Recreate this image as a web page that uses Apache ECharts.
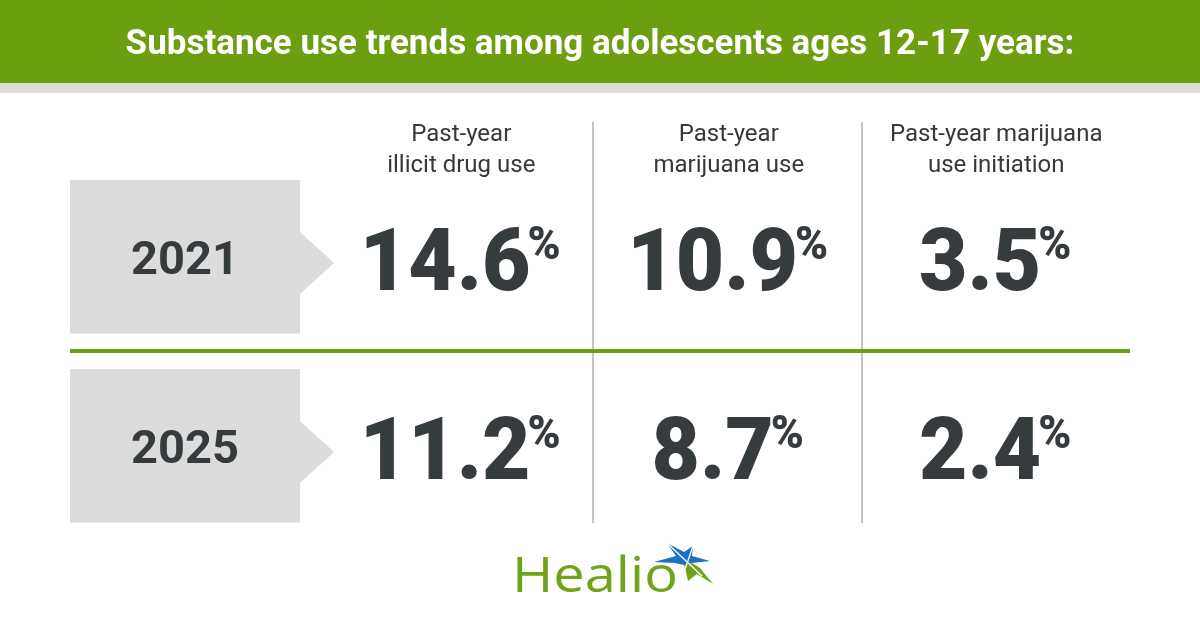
<!DOCTYPE html>
<html>
<head>
<meta charset="utf-8">
<script src="https://cdn.jsdelivr.net/npm/echarts@6/dist/echarts.min.js"></script>
<style>
html,body{margin:0;padding:0;background:#fff;}
#chart{width:1200px;height:630px;}
</style>
</head>
<body>
<div id="chart"></div>
<script>
// ---- Data ----
var title = 'Substance use trends among adolescents ages 12-17 years:';
var years = ['2021', '2025'];
var measures = ['Past-year\nillicit drug use', 'Past-year\nmarijuana use', 'Past-year marijuana\nuse initiation'];
var illicitDrugUse = [14.6, 11.2];
var marijuanaUse = [10.9, 8.7];
var marijuanaInitiation = [3.5, 2.4];
var seriesValues = [illicitDrugUse, marijuanaUse, marijuanaInitiation];

// ---- Style constants ----
var GREEN = '#6c9f10';
var LOGOGREEN = '#6fa319';
var DARK = '#363b3e';
var BOXGRAY = '#dcdcdc';

var xCats = [''].concat(measures);

var numberData = [];
seriesValues.forEach(function (vals, j) {
  vals.forEach(function (v, i) {
    numberData.push([j + 1, i, v]);
  });
});
var yearData = years.map(function (y, i) { return [0, i, y]; });

var chart = echarts.init(document.getElementById('chart'), null, { renderer: 'canvas' });

var option = {
  backgroundColor: '#ffffff',
  animation: false,
  grid: { left: 60, right: 70, top: 162, bottom: 90, containLabel: false },
  xAxis: {
    type: 'category',
    position: 'top',
    data: xCats,
    axisLine: { show: false },
    axisTick: { show: false },
    splitLine: { show: false },
    axisLabel: {
      interval: 0,
      margin: 12,
      verticalAlign: 'middle',
      fontFamily: 'Roboto',
      fontSize: 24,
      lineHeight: 31,
      color: '#383838',
      align: 'center'
    }
  },
  yAxis: {
    type: 'category',
    data: years,
    inverse: true,
    show: false
  },
  graphic: [
    { type: 'rect', shape: { x: 0, y: 0, width: 1200, height: 83 }, style: { fill: GREEN }, z: 0 },
    { type: 'rect', shape: { x: 0, y: 83, width: 1200, height: 10 }, style: { fill: BOXGRAY }, z: 0 },
    {
      type: 'text', x: 600, y: 45,
      style: { text: title, fill: '#ffffff', font: 'bold 35px Roboto', align: 'center', verticalAlign: 'middle' },
      z: 1
    },
    { type: 'line', shape: { x1: 593, y1: 122, x2: 593, y2: 523 }, style: { stroke: '#b3b3b3', lineWidth: 1.6 }, z: 0 },
    { type: 'line', shape: { x1: 862, y1: 122, x2: 862, y2: 523 }, style: { stroke: '#b3b3b3', lineWidth: 1.6 }, z: 0 },
    { type: 'line', shape: { x1: 70, y1: 351, x2: 1130, y2: 351 }, style: { stroke: GREEN, lineWidth: 4 }, z: 1 },
    {
      type: 'text', x: 512, y: 578, scaleX: 1.12,
      style: { text: 'Healio', fill: LOGOGREEN, font: '50px "Open Sans"', align: 'left', verticalAlign: 'middle' },
      z: 1
    },
    {
      type: 'polygon',
      shape: { points: [[654, 562], [676, 556], [667, 543], [684, 552], [693, 546], [692, 556], [710, 561], [692, 563], [684, 565], [675, 563]] },
      style: { fill: '#1f6fc4' }, z: 2
    },
    {
      type: 'polygon',
      shape: { points: [[684, 565], [692, 563], [700, 568], [713, 584], [697, 574], [688, 581], [686, 572]] },
      style: { fill: LOGOGREEN }, z: 2
    },
    { type: 'line', shape: { x1: 667, y1: 543, x2: 702, y2: 576 }, style: { stroke: '#ffffff', lineWidth: 1.3 }, z: 3 },
    { type: 'line', shape: { x1: 693, y1: 546, x2: 682, y2: 578 }, style: { stroke: '#ffffff', lineWidth: 1.3 }, z: 3 }
  ],
  series: [
    {
      type: 'custom',
      name: 'years',
      data: yearData,
      z: 2,
      renderItem: function (params, api) {
        var c = api.coord([api.value(0), api.value(1)]);
        var cx = c[0], cy = c[1];
        var left = cx - 123.75, right = cx + 106.25, tip = cx + 140.25;
        var top = cy - 76.5, bottom = cy + 77;
        return {
          type: 'group',
          children: [
            {
              type: 'polygon',
              shape: { points: [[left, top], [right, top], [right, cy - 24.5], [tip, cy + 6.5], [right, cy + 37.5], [right, bottom], [left, bottom]] },
              style: { fill: BOXGRAY }
            },
            {
              type: 'text',
              x: (left + right) / 2, y: cy + 6,
              style: { text: years[params.dataIndex], fill: DARK, font: 'bold 47px Roboto', align: 'center', verticalAlign: 'middle' }
            }
          ]
        };
      }
    },
    {
      type: 'custom',
      name: 'values',
      data: numberData,
      z: 3,
      renderItem: function (params, api) {
        var c = api.coord([api.value(0), api.value(1)]);
        return {
          type: 'text',
          x: c[0] - 1, y: c[1] + 11,
          scaleX: 0.95,
          style: {
            text: '{v|' + api.value(2).toFixed(1) + '}{p|%}',
            align: 'center',
            verticalAlign: 'middle',
            rich: {
              v: { fontFamily: 'Roboto', fontWeight: 900, fontSize: 88, lineHeight: 88, fill: DARK },
              p: { fontFamily: 'Roboto', fontWeight: 900, fontSize: 47, lineHeight: 88, fill: DARK, verticalAlign: 'top', padding: [0, 0, 0, -3] }
            }
          }
        };
      }
    }
  ]
};
chart.setOption(option);
</script>
</body>
</html>
